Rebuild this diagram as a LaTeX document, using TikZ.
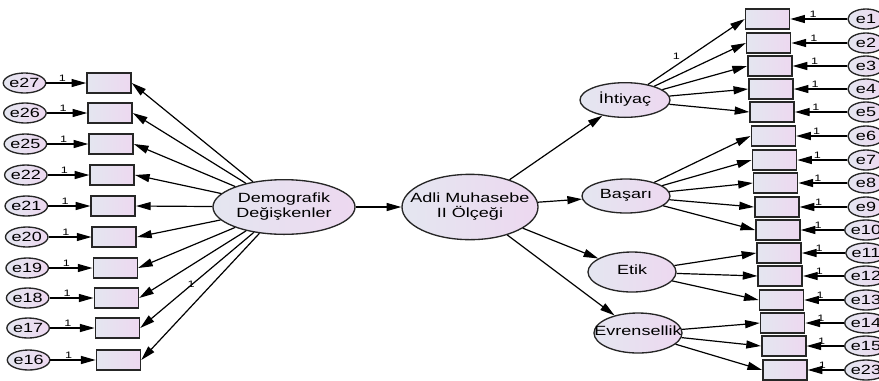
\documentclass[tikz,border=0pt]{standalone}
\usepackage{fontspec}
\setmainfont{Liberation Sans}[FakeStretch=1.35]
\usetikzlibrary{arrows.meta, shapes.geometric}
\definecolor{amosleft}{RGB}{228,230,240}
\definecolor{amosright}{RGB}{237,216,240}
\newcommand{\lattext}[1]{\makebox[0pt]{\begin{tabular}{@{}c@{}}#1\end{tabular}}}

\begin{document}
\begin{tikzpicture}[x=0.75pt, y=-0.75pt,
    every node/.style={font=\fontsize{10}{11}\selectfont},
    obs/.style={rectangle, draw=black!85, line width=1.2pt, minimum width=33pt, minimum height=15pt, inner sep=0pt, left color=amosleft, right color=amosright},
    lat/.style={ellipse, draw=black!85, line width=1pt, inner sep=0pt, left color=amosleft, right color=amosright},
    err/.style={ellipse, draw=black!85, line width=1pt, inner sep=0pt, minimum width=27pt, minimum height=15pt, left color=amosleft, right color=amosright},
    arrow/.style={-{Triangle[length=11pt, width=6pt]}, line width=0.9pt},
    fix/.style={font=\fontsize{7}{8}\selectfont, inner sep=1pt}]

  \useasboundingbox (0,0) rectangle (879,380);

  % latent variables
  \node[lat, minimum width=106.5pt, minimum height=41pt] (demo) at (284,207) {\lattext{Demografik\\Değişkenler}};
  \node[lat, minimum width=102pt, minimum height=49pt] (adli) at (470,207) {\lattext{Adli Muhasebe\\II Ölçeği}};
  \node[lat, minimum width=67.5pt, minimum height=26pt] (iht) at (625,100) {\lattext{İhtiyaç}};
  \node[lat, minimum width=66pt, minimum height=25.5pt] (bas) at (626,196) {\lattext{Başarı}};
  \node[lat, minimum width=66pt, minimum height=30pt] (etik) at (632,272) {\lattext{Etik}};
  \node[lat, minimum width=66pt, minimum height=30pt] (evr) at (638,333) {\lattext{Evrensellik}};

  % left indicators
  \foreach \nm/\yy [count=\i from 0] in {27/83,26/113,25/144,22/175,21/206,20/237,19/268,18/298,17/328,16/360} {
    \node[obs] (b\nm) at ({109+1.05*\i}, \yy) {};
    \node[err] (e\nm) at ({24.5+0.45*\i}, \yy) {e\nm};
    \draw[arrow] (e\nm) -- node[fix, above, pos=0.4]{1} (b\nm);
  }
  \foreach \nm in {27,26,25,22,21,20,19,18,16}
    \draw[arrow] (demo) -- (b\nm.east);
  \draw[arrow] (demo) -- node[fix, pos=0.6, above right]{1} (b17.east);

  % right indicators
  \foreach \nm/\yy [count=\i from 0] in {1/19,2/43,3/66,4/89,5/112,6/136,7/160,8/183,9/207,10/230,11/253,12/276,13/300,14/323,15/346,23/370} {
    \node[obs] (r\nm) at ({767.5+1.16*\i}, \yy) {};
    \node[err] (f\nm) at (866, \yy) {e\nm};
    \draw[arrow] (f\nm) -- node[fix, above, pos=0.6]{1} (r\nm);
  }

  \draw[arrow] (demo) -- (adli);
  \draw[arrow] (adli) -- (iht);
  \draw[arrow] (adli) -- (bas);
  \draw[arrow] (adli) -- (etik);
  \draw[arrow] (adli) -- (evr);

  \draw[arrow] (iht) -- node[fix, pos=0.35, above left]{1} (r1.west);
  \foreach \nm in {2,3,4,5}
    \draw[arrow] (iht) -- (r\nm.west);
  \foreach \nm in {6,7,8,9,10}
    \draw[arrow] (bas) -- (r\nm.west);
  \foreach \nm in {11,12,13}
    \draw[arrow] (etik) -- (r\nm.west);
  \foreach \nm in {14,15,23}
    \draw[arrow] (evr) -- (r\nm.west);
\end{tikzpicture}
\end{document}
